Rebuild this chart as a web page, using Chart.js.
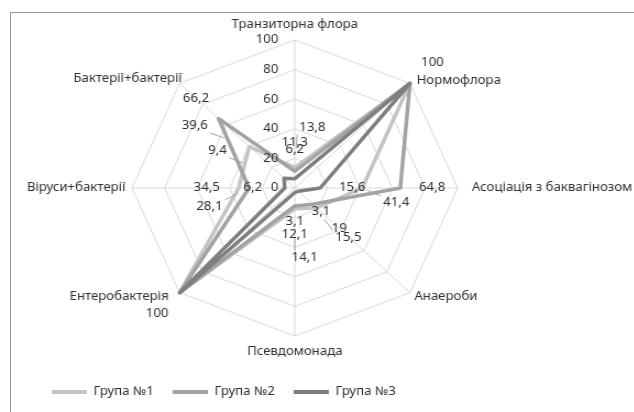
<!DOCTYPE html>
<html>
<head>
<meta charset="utf-8">
<script src="https://cdn.jsdelivr.net/npm/chart.js@4.4.0/dist/chart.umd.min.js"></script>
<style>
  html, body { margin: 0; padding: 0; background: #fff; overflow: hidden; }
  #wrap { position: relative; width: 634px; height: 412px; overflow: hidden; }
  #frame { position: absolute; left: 10px; top: 12px; width: 700px; height: 500px;
           border-left: 1px solid #999; border-top: 1px solid #999; }
  #chart { position: absolute; left: 0; top: 0; transform: scaleX(1.1); transform-origin: 0 0; }
</style>
</head>
<body>
<div id="wrap">
  <div id="frame"></div>
  <canvas id="chart" width="576" height="412"></canvas>
</div>
<script>
// categories go clockwise from the top
const categories = ['Транзиторна флора', 'Нормофлора', 'Асоціація з баквагінозом', 'Анаероби',
                    'Псевдомонада', 'Ентеробактерія', 'Віруси+бактерії', 'Бактерії+бактерії'];
const group1 = [13.8, 100, 41.4, 19, 14.1, 100, 34.5, 39.6];
const group2 = [11.3, 100, 64.8, 15.5, 12.1, 100, 28.1, 66.2];
const group3 = [6.2, 100, 15.6, 3.1, 3.1, 100, 6.2, 9.4];
const seriesNames = ['Група №1', 'Група №2', 'Група №3'];
const tickLabels = ['0', '20', '40', '60', '80', '100'];

const colors = ['#c4c4c4', '#a3a3a3', '#7f7f7f'];
const font = '12px "Noto Sans", "DejaVu Sans", sans-serif';
const textColor = '#303030';

// where each category name sits next to its outer vertex: [align, dx, dy]
const catPlace = [['center', 0, -15], ['left', 6, -3], ['left', 13, 0], ['left', 4, 4],
                  ['center', 0, 16], ['right', -10, 4], ['right', -6, 0], ['right', 2, -5]];
// data labels that were dragged away from their default spot (get a leader line)
const moved = [
  [[16, -11], null, [2, 15], null, [9, 20], null, null, [-29, 0]],
  [null, null, null, [12, 13], null, null, [-7, 19], null],
  [null, null, null, null, null, null, null, [-40, -7]]
];

const fmt = v => String(v).replace('.', ',');

const textPlugin = {
  id: 'textPlugin',
  afterDatasetsDraw(chart) {
    const s = chart.scales.r, ctx = chart.ctx;
    ctx.save();
    ctx.font = font;
    ctx.textBaseline = 'middle';

    // value axis labels, left of the vertical spoke
    ctx.fillStyle = textColor;
    ctx.textAlign = 'right';
    s.ticks.forEach((t, i) => {
      ctx.fillText(tickLabels[i], s.xCenter - 15, s.yCenter - s.getDistanceFromCenterForValue(t.value));
    });

    // category names
    categories.forEach((c, i) => {
      const p = s.getPointPosition(i, s.drawingArea);
      ctx.textAlign = catPlace[i][0];
      ctx.fillText(c, p.x + catPlace[i][1], p.y + catPlace[i][2]);
    });

    // data labels (identical labels on the same spot are written once)
    ctx.textAlign = 'center';
    const done = new Set();
    chart.data.datasets.forEach((ds, di) => {
      ds.data.forEach((v, i) => {
        const d = s.getDistanceFromCenterForValue(v);
        const pt = s.getPointPosition(i, d);
        const lp = s.getPointPosition(i, d + 29);
        let x = lp.x, y = lp.y;
        const m = moved[di][i];
        if (m) {
          x += m[0]; y += m[1];
          const w = ctx.measureText(fmt(v)).width / 2 + 2;
          const sx = Math.min(Math.max(pt.x, x - w), x + w);
          const sy = Math.min(Math.max(pt.y, y - 7), y + 7);
          const len = Math.hypot(pt.x - sx, pt.y - sy);
          const k = Math.min(1, 14 / len);
          ctx.strokeStyle = '#a6a6a6';
          ctx.lineWidth = 1;
          ctx.beginPath();
          ctx.moveTo(sx, sy);
          ctx.lineTo(sx + (pt.x - sx) * k, sy + (pt.y - sy) * k);
          ctx.stroke();
        }
        const key = fmt(v) + '@' + Math.round(x) + ',' + Math.round(y);
        if (done.has(key)) return;
        done.add(key);
        ctx.fillStyle = textColor;
        ctx.fillText(fmt(v), x, y);
      });
    });
    ctx.restore();
  }
};

const series = [group1, group2, group3];
new Chart(document.getElementById('chart'), {
  type: 'radar',
  data: {
    labels: categories,
    datasets: series.map((vals, i) => ({
      label: seriesNames[i],
      data: vals,
      borderColor: colors[i],
      backgroundColor: colors[i],
      borderWidth: 3.5,
      borderJoinStyle: 'round',
      fill: false,
      tension: 0,
      pointRadius: 0,
      pointHoverRadius: 0,
      order: 3 - i
    }))
  },
  options: {
    responsive: false,
    animation: false,
    devicePixelRatio: 1,
    layout: { padding: { top: 40, left: 30, right: 70, bottom: 4 } },
    scales: {
      r: {
        min: 0,
        max: 100,
        ticks: { stepSize: 20, display: false },
        pointLabels: { display: false },
        grid: { color: '#d9d9d9', lineWidth: 1 },
        angleLines: { color: '#d9d9d9', lineWidth: 1 }
      }
    },
    plugins: {
      tooltip: { enabled: false },
      legend: {
        position: 'bottom',
        align: 'start',
        title: { display: true, text: '', padding: { top: 0, bottom: 18.6 } },
        labels: {
          boxWidth: 32,
          boxHeight: 4,
          padding: 17,
          color: textColor,
          font: { family: '"Noto Sans", "DejaVu Sans", sans-serif', size: 12 },
          sort: (a, b) => a.datasetIndex - b.datasetIndex,
          generateLabels: chart => Chart.defaults.plugins.legend.labels.generateLabels(chart)
            .map(l => Object.assign(l, { lineWidth: 0 }))
        }
      }
    }
  },
  plugins: [textPlugin]
});
</script>
</body>
</html>
